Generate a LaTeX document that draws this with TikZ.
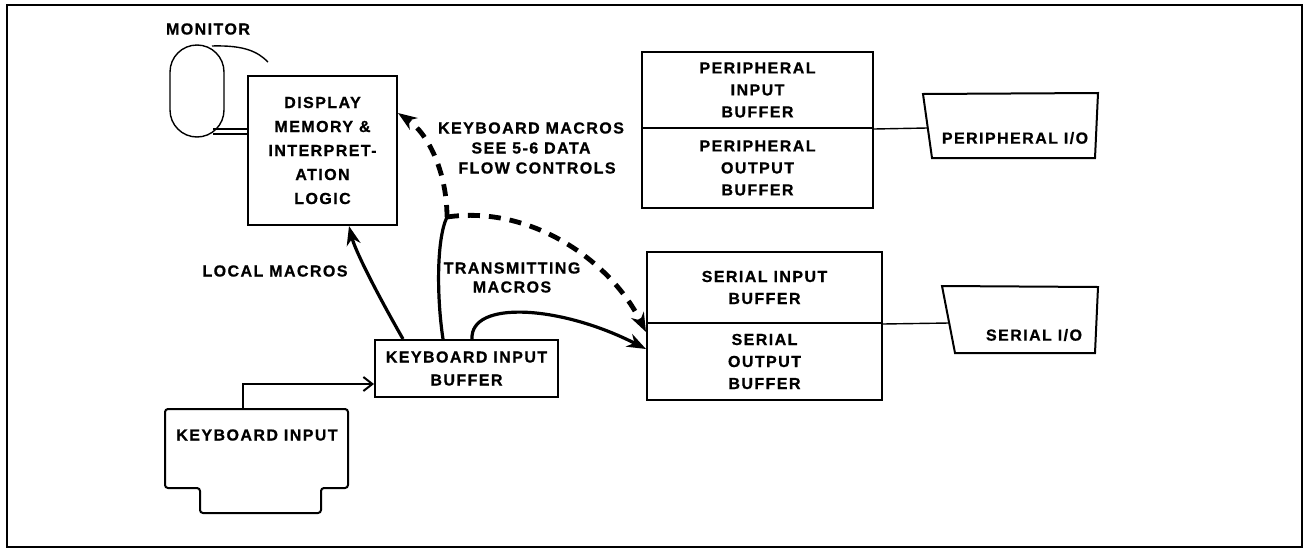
\documentclass[tikz,border=0pt]{standalone}
\usepackage{fontspec}
\usetikzlibrary{arrows.meta}
\newfontfamily\diafont{Liberation Sans}[LetterSpace=9, BoldFeatures={FakeBold=0.8}]

\begin{document}
\begin{tikzpicture}[x=1pt,y=-1pt,
    lbl/.style={font=\diafont\bfseries\fontsize{16}{22}\selectfont, align=center, inner sep=0pt},
    box/.style={draw, line width=2pt, inner sep=0pt},
    link/.style={line width=1.4pt},
    flow/.style={line width=3.2pt, -{Stealth[length=19pt,width=14pt,inset=6pt]}},
    trunk/.style={line width=3.2pt},
    macro/.style={line width=4.8pt, dash pattern=on 12pt off 9pt, -{Stealth[length=19pt,width=14pt,inset=6pt]}},
    feed/.style={line width=1.8pt, -{Straight Barb[length=9pt,width=14pt,line width=2pt]}}]
    \useasboundingbox (0,0) rectangle (1305,549);
    \draw[line width=1.6pt] (7,5) rectangle (1302,547);

    % monitor
    \node[lbl] (montxt) at (208,29) {MONITOR};
    \draw[link, rounded corners=27] (170,45) rectangle (224,137);
    \draw[link] (212,46) .. controls (245,45) and (258,52) .. (268,62);

    % boxes
    \node[box, lbl, minimum width=149, minimum height=149,
          font=\diafont\bfseries\fontsize{16}{24}\selectfont] (disp) at (322.5,150.5)
        {DISPLAY\\MEMORY \&\\INTERPRET-\\ATION\\LOGIC};
    \node[box, lbl, minimum width=183, minimum height=57,
          font=\diafont\bfseries\fontsize{16}{23}\selectfont] (kbuf) at (466.5,368.5)
        {KEYBOARD INPUT\\BUFFER};
    \node[box, lbl, minimum width=231, minimum height=76] (periin) at (757.5,90)
        {PERIPHERAL\\INPUT\\BUFFER};
    \node[box, lbl, minimum width=231, minimum height=80] (periout) at (757.5,168)
        {PERIPHERAL\\OUTPUT\\BUFFER};
    \node[box, lbl, minimum width=235, minimum height=71] (serin) at (764.5,287.5)
        {SERIAL INPUT\\BUFFER};
    \node[box, lbl, minimum width=235, minimum height=77] (serout) at (764.5,361.5)
        {SERIAL\\OUTPUT\\BUFFER};
    \draw[link] (213,129) -- (disp.west |- 0,129);
    \draw[link] (213,134) -- (disp.west |- 0,134);

    % i/o ports
    \draw[box] (923,94) -- (1098,93) -- (1095,158) -- (932,158) -- cycle;
    \coordinate (pioin) at (927,128);
    \node[lbl] (piotxt) at (1015,138) {PERIPHERAL I/O};
    \draw[box] (942,286) -- (1098,287) -- (1095,353) -- (955,353) -- cycle;
    \coordinate (sioin) at (949,323);
    \node[lbl] (siotxt) at (1034,335) {SERIAL I/O};
    \draw[link] (periin.south east) -- (pioin);
    \draw[link] (serin.south east) -- (sioin);

    % keyboard input
    \draw[box, rounded corners=3] (165,409) -- (348,409) -- (348,488) -- (321,488) -- (321,513)
        -- (200,513) -- (200,488) -- (165,488) -- cycle;
    \node[lbl] (kin) at (257,435) {KEYBOARD INPUT};
    \coordinate (kintop) at (243,409);
    \draw[feed] (kintop) |- ([yshift=-15.5pt]kbuf.west);

    % macro paths
    \coordinate (fork) at (447,217);
    \draw[flow] ([xshift=-63.5pt]kbuf.north) .. controls (375,290) and (355,250) .. ([xshift=26.5pt]disp.south);
    \draw[trunk] ([xshift=-23.5pt]kbuf.north) .. controls (437,300) and (436,240) .. (fork);
    \draw[macro] (fork) .. controls (447,175) and (430,135) .. ([yshift=37.5pt]disp.east);
    \draw[macro] (fork) .. controls (530,205) and (610,260) .. ([yshift=-10pt]serout.north west);
    \draw[flow] ([xshift=5.5pt]kbuf.north) .. controls (470,300) and (560,305) .. ([yshift=-27pt]serout.north west);

    \node[lbl] (loctxt) at (275,271) {LOCAL MACROS};
    \node[lbl, font=\diafont\bfseries\fontsize{16}{19}\selectfont] (trtxt) at (512,277.5) {TRANSMITTING\\MACROS};
    \node[lbl, font=\diafont\bfseries\fontsize{16}{20}\selectfont] (kmtxt) at (531,148)
        {KEYBOARD MACROS\\SEE 5-6 DATA\\\hspace*{12pt}FLOW CONTROLS};
\end{tikzpicture}
\end{document}
